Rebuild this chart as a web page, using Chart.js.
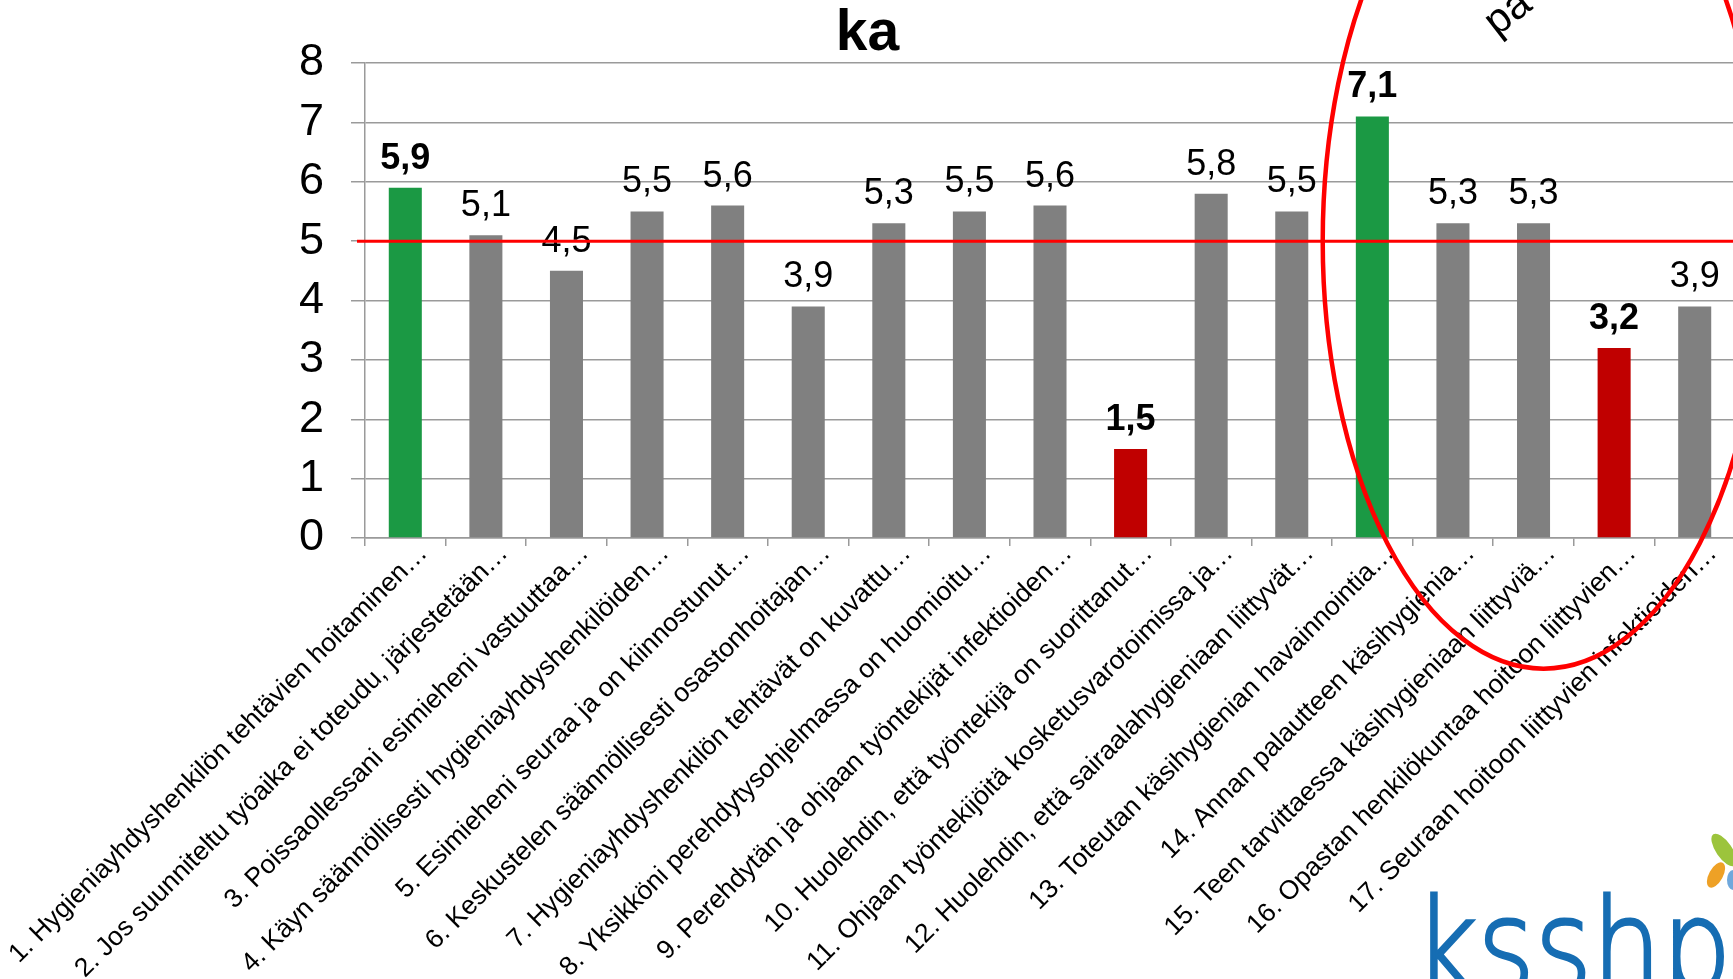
<!DOCTYPE html>
<html>
<head>
<meta charset="utf-8">
<script src="https://cdn.jsdelivr.net/npm/chart.js@4/dist/chart.umd.min.js"></script>
<style>
  html, body { margin: 0; padding: 0; background: #fff; overflow: hidden; }
  #wrap { width: 1735px; height: 979px; }
</style>
</head>
<body>
<div id="wrap"><canvas id="mycanvas"></canvas></div>
<script>
// kysymykset
var categories = [
    "1. Hygieniayhdyshenkilön tehtävien hoitaminen\u2026",
    "2. Jos suunniteltu työaika ei toteudu, järjestetään\u2026",
    "3. Poissaollessani esimieheni vastuuttaa\u2026",
    "4. Käyn säännöllisesti hygieniayhdyshenkilöiden\u2026",
    "5. Esimieheni seuraa ja on kiinnostunut\u2026",
    "6. Keskustelen säännöllisesti osastonhoitajan\u2026",
    "7. Hygieniayhdyshenkilön tehtävät on kuvattu\u2026",
    "8. Yksikköni perehdytysohjelmassa on huomioitu\u2026",
    "9. Perehdytän ja ohjaan työntekijät infektioiden\u2026",
    "10. Huolehdin, että työntekijä on suorittanut\u2026",
    "11. Ohjaan työntekijöitä kosketusvarotoimissa ja\u2026",
    "12. Huolehdin, että sairaalahygieniaan liittyvät\u2026",
    "13. Toteutan käsihygienian havainnointia\u2026",
    "14. Annan palautteen käsihygienia\u2026",
    "15. Teen tarvittaessa käsihygieniaan liittyviä\u2026",
    "16. Opastan henkilökuntaa hoitoon liittyvien\u2026",
    "17. Seuraan hoitoon liittyvien infektioiden\u2026"
];

// keskiarvot (ka)
var values = [5.9, 5.1, 4.5, 5.5, 5.6, 3.9, 5.3, 5.5, 5.6, 1.5, 5.8, 5.5, 7.1, 5.3, 5.3, 3.2, 3.9];

// kysymysryhmat: paras vihreä, heikoin punainen ryhmän sisällä
var groups = [1, 1, 1, 1, 1, 1, 1, 1, 1, 1, 1, 1, 2, 2, 2, 2, 2];

var yMin = 0;
var yMax = 8;
var targetLine = 5;

var FONT = "'Liberation Sans', Arial, sans-serif";
var GREEN = '#1b9944';
var RED = '#c00000';
var GRAY = '#808080';
var GRID = '#9a9a9a';

// lasketaan ryhmän max/min
var highlight = [];
for (var i in values) {
    var g = groups[i];
    var inGroup = values.filter(function(v, j) { return groups[j] === g; });
    var mx = Math.max.apply(null, inGroup);
    var mn = Math.min.apply(null, inGroup);
    if (values[i] === mx) highlight.push('best');
    else if (values[i] === mn) highlight.push('worst');
    else highlight.push('');
}
var barColors = highlight.map(function(h) {
    return h === 'best' ? GREEN : (h === 'worst' ? RED : GRAY);
});

var valueLabels = {
    id: 'valueLabels',
    afterDatasetsDraw: function(chart) {
        var ctx = chart.ctx;
        var meta = chart.getDatasetMeta(0);
        ctx.save();
        ctx.textAlign = 'center';
        ctx.textBaseline = 'alphabetic';
        ctx.fillStyle = '#000';
        meta.data.forEach(function(bar, i) {
            ctx.font = (highlight[i] ? 'bold ' : '') + '36px ' + FONT;
            ctx.fillText(values[i].toFixed(1).replace('.', ','), bar.x, bar.y - 19);
        });
        ctx.restore();
    }
};

var extras = {
    id: 'extras',
    afterDraw: function(chart) {
        var ctx = chart.ctx;
        var x = chart.scales.x;
        var y = chart.scales.y;
        var area = chart.chartArea;
        var catW = x.getPixelForValue(1) - x.getPixelForValue(0);
        var unit = y.getPixelForValue(0) - y.getPixelForValue(1);

        ctx.save();
        // raja 5
        var ly = y.getPixelForValue(targetLine);
        ctx.strokeStyle = '#ff0000';
        ctx.lineWidth = 3;
        ctx.beginPath();
        ctx.moveTo(area.left - 8, ly);
        ctx.lineTo(chart.width, ly);
        ctx.stroke();

        // ellipsi
        ctx.lineWidth = 4.5;
        ctx.beginPath();
        ctx.ellipse(x.getPixelForValue(14) + 10, y.getPixelForValue(5), catW * 2.74, unit * 7.2, 0, 0, Math.PI * 2);
        ctx.stroke();

        // teksti ellipsin yläpuolella
        ctx.save();
        ctx.translate(1497, 37);
        ctx.rotate(-38 * Math.PI / 180);
        ctx.fillStyle = '#000';
        ctx.font = '42px ' + FONT;
        ctx.textBaseline = 'alphabetic';
        ctx.fillText('pa', 0, 0);
        ctx.restore();

        // logo
        ctx.save();
        ctx.translate(1414, 992);
        ctx.scale(0.845, 1);
        ctx.fillStyle = '#166db3';
        ctx.strokeStyle = '#166db3';
        ctx.lineWidth = 3;
        ctx.font = '200 130px "DejaVu Sans"';
        ctx.fillText('ksshp', 0, 0);
        ctx.strokeText('ksshp', 0, 0);
        ctx.restore();

        ctx.save();
        ctx.translate(1724, 850);
        ctx.rotate(-0.6);
        ctx.fillStyle = '#9cc43c';
        ctx.beginPath();
        ctx.ellipse(0, 0, 8, 19, 0, 0, Math.PI * 2);
        ctx.fill();
        ctx.restore();
        ctx.save();
        ctx.translate(1716, 875);
        ctx.rotate(0.5);
        ctx.fillStyle = '#eea126';
        ctx.beginPath();
        ctx.ellipse(0, 0, 7, 14, 0, 0, Math.PI * 2);
        ctx.fill();
        ctx.restore();
        ctx.fillStyle = '#6fa8dc';
        ctx.beginPath();
        ctx.ellipse(1733, 880, 6, 10, 0, 0, Math.PI * 2);
        ctx.fill();

        ctx.restore();
    }
};

var chartdata = {
    labels: categories,
    datasets: [
        {
            label: 'ka',
            backgroundColor: barColors,
            borderWidth: 0,
            barPercentage: 0.41,
            categoryPercentage: 1.0,
            data: values
        }
    ]
};

var ctx = document.getElementById('mycanvas');

var barGraph = new Chart(ctx, {
    type: 'bar',
    data: chartdata,
    plugins: [valueLabels, extras],
    options: {
        responsive: true,
        maintainAspectRatio: false,
        animation: false,
        layout: { padding: 0 },
        plugins: {
            legend: { display: false },
            tooltip: { enabled: false },
            title: {
                display: true,
                text: 'ka',
                color: '#000',
                font: { family: FONT, size: 57, weight: 'bold', lineHeight: 1 },
                padding: { top: 6, bottom: 0 }
            }
        },
        scales: {
            x: {
                grid: {
                    display: true,
                    drawOnChartArea: false,
                    drawTicks: true,
                    tickLength: 8,
                    offset: true,
                    color: GRID,
                    lineWidth: 1.5
                },
                border: { color: GRID, width: 1.5 },
                ticks: {
                    autoSkip: false,
                    minRotation: 45,
                    maxRotation: 45,
                    labelOffset: 18,
                    padding: -8,
                    color: '#000',
                    font: { family: FONT, size: 26.5 }
                },
                afterFit: function(axis) {
                    axis.height = 441;
                    axis.paddingLeft = 0;
                    axis.paddingRight = 0;
                }
            },
            y: {
                min: yMin,
                max: yMax,
                grid: {
                    color: GRID,
                    lineWidth: 1.5,
                    tickLength: 14
                },
                border: { color: GRID, width: 1.5 },
                ticks: {
                    stepSize: 1,
                    padding: 27,
                    color: '#000',
                    font: { family: FONT, size: 45 }
                },
                afterFit: function(axis) {
                    axis.width = 365;
                }
            }
        }
    }
});
</script>
</body>
</html>
